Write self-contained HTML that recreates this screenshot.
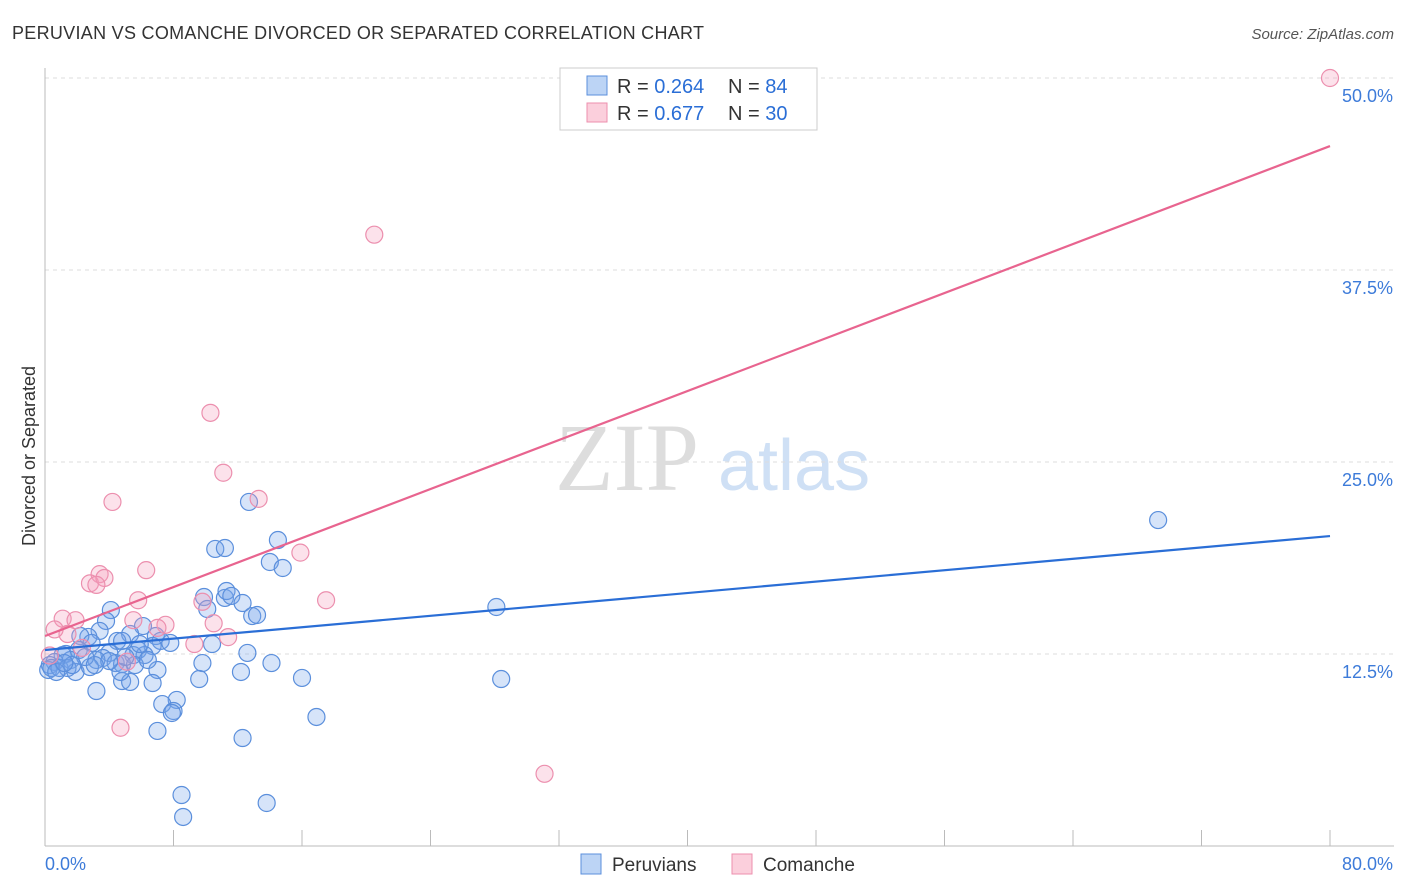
<!DOCTYPE html>
<html><head><meta charset="utf-8"><style>
body{margin:0;background:#fff;font-family:"Liberation Sans",sans-serif}
svg{display:block}
</style></head><body>
<svg id="chart" width="1406" height="892">
<text x="12" y="39" font-size="18" fill="#333" textLength="692">PERUVIAN VS COMANCHE DIVORCED OR SEPARATED CORRELATION CHART</text>
<text x="1394" y="39" font-size="15" fill="#555" text-anchor="end" font-style="italic">Source: ZipAtlas.com</text>
<text x="35" y="456" font-size="18" fill="#333" text-anchor="middle" transform="rotate(-90 35 456)">Divorced or Separated</text>
<text x="555" y="490" font-size="96" fill="#ddd" font-family="Liberation Serif,serif">ZIP</text>
<text x="718" y="490" font-size="72" fill="#cfe0f5">atlas</text>
<g id="grid"></g><g id="axes"></g><g id="pts"></g><g id="lines"></g>
<g>
<rect x="560" y="68" width="257" height="62" fill="#fff" stroke="#ccc"/>
<rect x="587" y="76" width="20" height="19" fill="#bcd4f5" stroke="#5b8fdc"/>
<rect x="587" y="103" width="20" height="19" fill="#fbcfdc" stroke="#ec8fae"/>
<text x="617" y="93" font-size="20" fill="#333">R = <tspan fill="#2a6ed6">0.264</tspan></text>
<text x="728" y="93" font-size="20" fill="#333">N = <tspan fill="#2a6ed6">84</tspan></text>
<text x="617" y="120" font-size="20" fill="#333">R = <tspan fill="#2a6ed6">0.677</tspan></text>
<text x="728" y="120" font-size="20" fill="#333">N = <tspan fill="#2a6ed6">30</tspan></text>
</g>
<g>
<rect x="581" y="854" width="20" height="20" fill="#bcd4f5" stroke="#5b8fdc"/>
<text x="612" y="871" font-size="19" fill="#333">Peruvians</text>
<rect x="732" y="854" width="20" height="20" fill="#fbcfdc" stroke="#ec8fae"/>
<text x="763" y="871" font-size="19" fill="#333">Comanche</text>
</g>
</svg>
<script>
const blueX=[12.7,14.5,10.6,11.2,14,14.8,9.9,11.2,11.3,11.6,12.3,10.1,12.9,13.2,4.1,3.8,6.1,5.3,6.9,7.2,6.7,7.8,4.5,4.8,3.4,2.7,2.2,2.9,10.4,12.6,5.8,6.2,5.5,4.0,3.6,3.2,2.1,1.3,1.6,1.1,0.6,0.3,0.2,0.4,0.9,1.9,2.8,4.4,4.8,7.0,9.8,12.2,14.1,16.0,9.6,4.8,5.3,6.7,3.2,8.2,7.3,8.0,7.9,7.0,12.3,16.9,8.5,8.6,13.8,28.1,28.4,69.3,4.7,2.5,1.4,0.7,5.6,6.4,5.9,1.7,4.0,3.1,5.0,1.2];
const blueY=[22.4,19.92,19.34,19.4,18.49,18.1,16.21,16.15,16.6,16.28,15.82,15.43,14.97,15.04,15.36,14.65,14.32,13.8,13.67,13.35,13.02,13.22,13.35,13.35,14.0,13.61,13.67,13.22,13.15,12.57,12.76,12.43,12.43,12.57,12.24,12.11,12.76,12.5,12.11,12.43,11.98,11.78,11.46,11.59,11.59,11.33,11.65,11.91,11.85,11.46,11.91,11.33,11.91,10.94,10.87,10.74,10.68,10.61,10.09,9.51,9.24,8.79,8.66,7.49,7.03,8.4,3.32,1.89,2.8,15.56,10.87,21.22,11.33,12.3,11.59,11.33,11.78,12.11,13.15,11.78,12.04,11.78,12.3,11.91];
const pinkX=[80,20.5,10.3,11.1,4.2,13.3,15.9,6.3,3.4,2.8,3.7,3.2,5.8,17.5,9.8,1.1,1.9,5.5,7.5,7.0,1.4,0.6,10.5,11.4,9.3,2.3,5.1,4.7,31.1,0.3];
const pinkY=[50,39.8,28.2,24.3,22.4,22.6,19.1,17.96,17.7,17.1,17.45,17.0,16.0,16.0,15.9,14.8,14.7,14.7,14.4,14.2,13.8,14.1,14.5,13.6,13.15,12.9,12.0,7.7,4.7,12.4];
const trendBlue=[12.76,20.18];
const trendPink=[13.67,45.57];
const yTicks=[12.5,25,37.5,50];
const yTickLabels=["12.5%","25.0%","37.5%","50.0%"];
const xTicks=[0,8,16,24,32,40,48,56,64,72,80];
const NS="http://www.w3.org/2000/svg";
const X=v=>45+v/80*1285, Y=v=>846-v*15.36;
function mk(t,a,p){const e=document.createElementNS(NS,t);for(const k in a)e.setAttribute(k,a[k]);p.appendChild(e);return e;}
const grid=document.getElementById('grid'),axes=document.getElementById('axes'),pts=document.getElementById('pts'),lines=document.getElementById('lines');
yTicks.forEach((v,i)=>{
 const l=mk('line',{x1:45,x2:1394,y1:Y(v),y2:Y(v),stroke:'#ddd','stroke-dasharray':'4,4'},grid);
 
 
 const t=mk('text',{x:1393,y:Y(v)+24,'font-size':18,fill:'#3d7bd9','text-anchor':'end'},axes);
 t.textContent=yTickLabels[i];
 
 
});
const ax=mk('line',{x1:45,x2:45,y1:68,y2:846,stroke:'#bbb'},axes);


const bx=mk('line',{x1:45,x2:1394,y1:846,y2:846,stroke:'#bbb'},axes);


xTicks.forEach(v=>{
 const l=mk('line',{x1:X(v),x2:X(v),y1:830,y2:846,stroke:'#bbb'},axes);
 
 
});
const xl=mk('text',{x:45,y:870,'font-size':18,fill:'#3d7bd9'},axes);xl.textContent='0.0%';


const xr=mk('text',{x:1393,y:870,'font-size':18,fill:'#3d7bd9','text-anchor':'end'},axes);xr.textContent='80.0%';


blueX.forEach((v,i)=>{
 const c=mk('circle',{cx:X(v),cy:Y(blueY[i]),r:8.5,fill:'rgba(120,165,235,0.3)',stroke:'#5b8fdc','stroke-width':1.2},pts);
 
 
});
pinkX.forEach((v,i)=>{
 const c=mk('circle',{cx:X(v),cy:Y(pinkY[i]),r:8.5,fill:'rgba(245,160,190,0.3)',stroke:'#ec8fae','stroke-width':1.2},pts);
 
 
});
const lb=mk('line',{x1:X(0),y1:Y(trendBlue[0]),x2:X(80),y2:Y(trendBlue[1]),stroke:'#2a6ed6','stroke-width':2.2},lines);


const lp=mk('line',{x1:X(0),y1:Y(trendPink[0]),x2:X(80),y2:Y(trendPink[1]),stroke:'#e8648f','stroke-width':2.2},lines);


</script>
</body></html>
